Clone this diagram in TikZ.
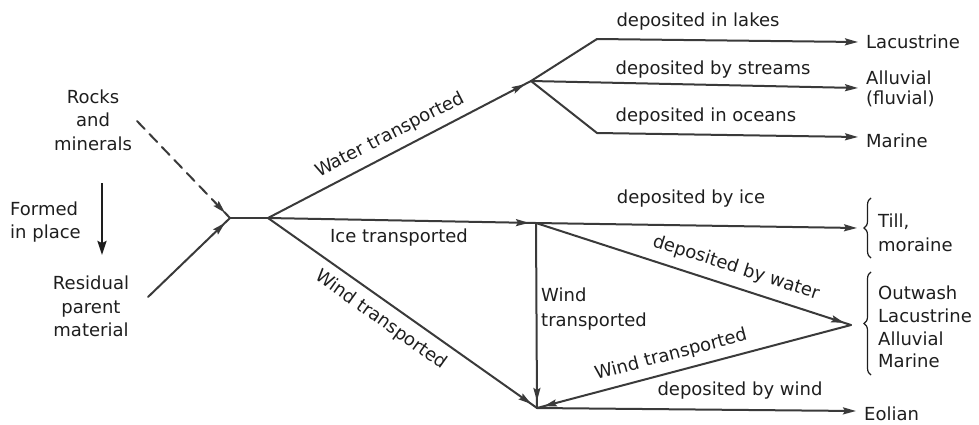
\documentclass[tikz,border=0pt]{standalone}
\usepackage{fontspec}
\setmainfont{DejaVu Sans}
\usetikzlibrary{arrows.meta,decorations.markings,decorations.pathreplacing}
\definecolor{linecol}{HTML}{3A3A3A}
\definecolor{txtcol}{HTML}{1E1E1E}
\begin{document}
\begin{tikzpicture}[x=1pt,y=-1pt,
  every node/.style={text=txtcol, font=\fontsize{18}{23.5}\selectfont, inner sep=0pt},
  flow/.style={draw=linecol, line width=2pt, line cap=round},
  tipend/.style={flow, -{Stealth[length=13pt,width=7pt,inset=2pt]}},
  tipnear/.style={flow, postaction={decorate},
    decoration={markings, mark=at position -7pt with {\arrow{Stealth[length=13pt,width=7pt,inset=2pt]}}}},
  brc/.style={draw=txtcol, line width=1.2pt, decorate, decoration={brace, amplitude=7pt}}]

\useasboundingbox (0,0) rectangle (979,424);

% junctions and corners of the flow network
\coordinate (J1) at (230,218);
\coordinate (J2) at (268,218);
\coordinate (WB) at (531,81);
\coordinate (TU) at (597,39);
\coordinate (TD) at (597,133);
\coordinate (IC) at (536,223);
\coordinate (BT) at (537,408);
\coordinate (OW) at (851,325);
\coordinate (RS) at (137,121);
\coordinate (RP) at (148,297);
\coordinate (FT) at (102,183);
\coordinate (FB) at (102,255);
% arrow ends in front of the end labels
\coordinate (LacE) at (858,42);
\coordinate (AllE) at (858,88);
\coordinate (MarE) at (858,137);
\coordinate (TillE) at (857,228);
\coordinate (EolE) at (856,411);

% end labels
\node[anchor=west] (lac) at (866,41.5) {Lacustrine};
\node[anchor=west, align=left, font=\fontsize{18}{20}\selectfont] (all) at (866,89) {Alluvial\\(fluvial)};
\node[anchor=west] (mar) at (866,140.5) {Marine};
\node[anchor=west, align=left] (till) at (878,233) {Till,\\moraine};
\node[anchor=west, align=left, font=\fontsize{18}{22.7}\selectfont] (out) at (878,327) {Outwash\\Lacustrine\\Alluvial\\Marine};
\node[anchor=west] (eol) at (864,413.5) {Eolian};

% source labels
\node[align=center] (rocks) at (93,120) {Rocks\\and\\minerals};
\node[align=left, anchor=west] (formed) at (10,222) {Formed\\in place};
\node[align=center] (resid) at (91,306.5) {Residual\\parent\\material};

% braces
\draw[brc] (871,258) -- (871,198);
\draw[brc] (871,375) -- (871,272);

% sources into the first junction
\draw[tipnear, dashed, dash pattern=on 11pt off 7pt] (RS) -- (J1);
\draw[tipnear] (RP) -- (J1);
\draw[draw=txtcol, line width=2.4pt, -{Stealth[length=14pt,width=9pt,inset=2pt]}] (FT) -- (FB);
\draw[flow] (J1) -- (J2);

% water branch
\draw[tipnear] (J2) -- (WB);
\draw[flow] (WB) -- (TU);
\draw[tipend] (TU) -- (LacE);
\draw[tipend] (WB) -- (AllE);
\draw[flow] (WB) -- (TD);
\draw[tipend] (TD) -- (MarE);
\node[rotate=27.2] (lwater) at (390,135) {Water transported};
\node (llakes) at (698,22) {deposited in lakes};
\node (lstreams) at (713,70) {deposited by streams};
\node (loceans) at (706,117) {deposited in oceans};

% ice branch
\draw[tipnear] (J2) -- (IC);
\draw[tipend] (IC) -- (TillE);
\draw[tipnear] (IC) -- (OW);
\draw[tipnear] (IC) -- (BT);
\node (lice) at (399,238) {Ice transported};
\node (lbyice) at (691,199) {deposited by ice};
\node[rotate=-17.8] (lbywater) at (736,268) {deposited by water};
\node[anchor=west, align=left, font=\fontsize{18}{25}\selectfont] (lwindv) at (541,309) {Wind\\transported};

% wind branch
\draw[tipnear] (J2) -- (BT);
\draw[tipnear] (OW) -- (BT);
\draw[tipend] (BT) -- (EolE);
\node[rotate=-35.5] (lwindd) at (381,320) {Wind transported};
\node[rotate=14.8] (lwindb) at (671,355) {Wind transported};
\node (lbywind) at (740,391) {deposited by wind};

\end{tikzpicture}
\end{document}
